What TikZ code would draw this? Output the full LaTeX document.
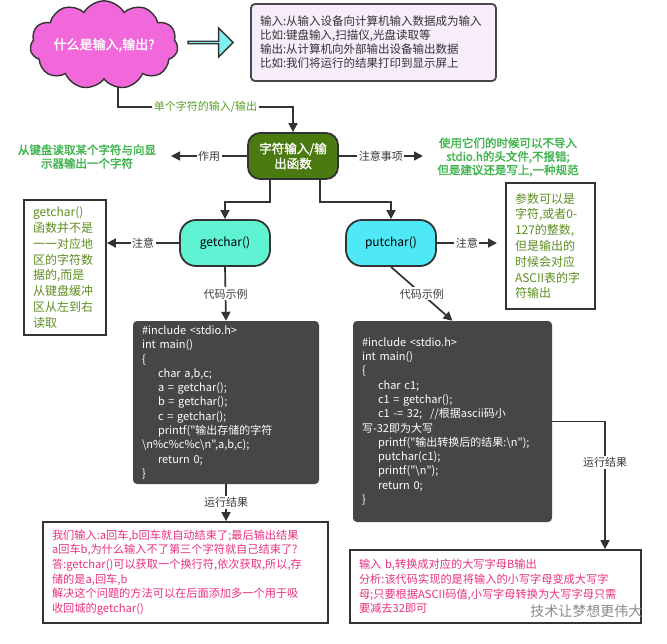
\documentclass[tikz,border=0pt]{standalone}
\usepackage{fontspec}
\setmainfont{Noto Sans CJK SC}
\newfontfamily\boldcjk{Noto Sans CJK SC}[FakeBold=1.6]
\newfontfamily\codefont{Noto Sans CJK SC}
\usetikzlibrary{shapes.symbols,shapes.arrows,arrows.meta,backgrounds}
\definecolor{linec}{HTML}{333333}
\definecolor{labc}{HTML}{3A3A3A}
\definecolor{brightgreen}{HTML}{3CB44B}
\definecolor{olive}{HTML}{5E8E22}
\definecolor{linelabgreen}{HTML}{58A02C}
\definecolor{pinktext}{HTML}{E8327F}
\definecolor{cloudpink}{HTML}{F068DA}
\definecolor{arrowcyan}{HTML}{80F0F0}
\definecolor{lav}{HTML}{F7EDFB}
\definecolor{fngreen}{HTML}{4A7A10}
\definecolor{gcfill}{HTML}{5FF3D4}
\definecolor{pcfill}{HTML}{4EE8F6}
\definecolor{codebg}{HTML}{464646}
\tikzset{
  conn/.style={draw=linec, line width=1.7pt},
  arr/.style={conn, -{Triangle[length=9pt,width=9pt]}},
  lbl/.style={fill=white, text=labc, font=\fontsize{11}{13}\selectfont, inner sep=1.5pt},
  topbox/.style={draw=linec!90, line width=1.8pt, rounded corners=4pt, fill=lav,
     minimum width=245pt, minimum height=77pt, text width=227pt, align=left,
     inner xsep=9pt, font=\fontsize{11.5}{14}\selectfont, text=black!80},
  pill/.style={draw=linec, line width=1.8pt, rounded corners=16pt, minimum width=90pt,
     minimum height=46pt, font=\fontsize{12}{14}\selectfont},
  notebox/.style={draw=linec, line width=1.8pt, align=left, inner xsep=9pt,
     text=olive, font=\fontsize{12}{15.8}\selectfont},
  greennote/.style={text=brightgreen, align=center, font=\boldcjk\fontsize{11.5}{13.5}\selectfont},
  codebox/.style={fill=codebg, rounded corners=4pt, text=white, align=left,
     inner xsep=9pt, font=\codefont\fontsize{11}{14.3}\selectfont},
  resbox/.style={draw=linec, line width=1.8pt, fill=white, align=left, inner xsep=9pt,
     text=pinktext, font=\fontsize{11.2}{14.6}\selectfont},
}
\newcommand{\ind}{\hspace*{16pt}}
\begin{document}
\begin{tikzpicture}[x=1pt,y=-1pt]
\begin{scope}[on background layer]
\fill[white] (0,0) rectangle (667,643);
\end{scope}
\useasboundingbox (0,0) rectangle (667,643);

% top row
\node[cloud, cloud puffs=11, cloud puff arc=120, aspect=2.1, fill=cloudpink, draw=linec,
      line width=1.4pt, minimum width=140pt, minimum height=66pt, inner sep=0pt,
      text=white, font=\boldcjk\fontsize{13}{15}\selectfont] (cloud) at (104,45) {什么是输入,输出?};
\node[single arrow, fill=arrowcyan, draw=linec, line width=1.3pt, minimum width=29pt,
      minimum height=45pt, single arrow head extend=7pt, inner sep=0pt] (arw) at (210,42.5) {};
\node[topbox] (info) at (373.5,42.5) {输入:从输入设备向计算机输入数据成为输入\\
比如:键盘输入,扫描仪,光盘读取等\\
输出:从计算机向外部输出设备输出数据\\
比如:我们将运行的结果打印到显示屏上};

% function node
\node[pill, fill=fngreen, text=white, align=center, rounded corners=12pt,
      font=\boldcjk\fontsize{12.5}{15}\selectfont] (fn) at (293,156) {字符输入/输\\出函数};
\node[greennote] (gl) at (87,156.5) {从键盘读取某个字符与向显\\示器输出一个字符};
\node[greennote] (gr) at (508,157) {使用它们的时候可以不导入\\stdio.h的头文件,不报错;\\但是建议还是写上,一种规范};
\coordinate (glend) at (171,156);
\coordinate (grend) at (423,156);

% getchar / putchar
\node[pill, fill=gcfill] (gc) at (225,243) {getchar()};
\node[pill, fill=pcfill] (pc) at (391,243) {putchar()};
\node[notebox, minimum width=82pt, minimum height=135pt, text width=64pt] (lb) at (65,267.5)
  {getchar()\\函数并不是\\一一对应地\\区的字符数\\据的,而是\\从键盘缓冲\\区从左到右\\读取};
\node[notebox, minimum width=89pt, minimum height=126pt, text width=71pt] (rb) at (550.5,246)
  {参数可以是\\字符,或者0-\\127的整数,\\但是输出的\\时候会对应\\ASCII表的字\\符输出};
\coordinate (rbend) at (497,243);

% code boxes
\node[codebox, minimum width=186pt, minimum height=163pt, text width=168pt] (code1) at (226,402.5)
  {\#include <stdio.h>\\
int main()\\
\{\\
\ind char a,b,c;\\
\ind a = getchar();\\
\ind b = getchar();\\
\ind c = getchar();\\
\ind printf("输出存储的字符\\
\textbackslash n\%c\%c\%c\textbackslash n",a,b,c);\\
\ind return 0;\\
\}};
\node[codebox, minimum width=199pt, minimum height=201pt, text width=181pt] (code2) at (452.5,421.5)
  {\#include <stdio.h>\\
int main()\\
\{\\
\ind char c1;\\
\ind c1 = getchar();\\
\ind c1 -{}= 32;\hspace*{8pt}//根据ascii码小\\
写-32即为大写\\
\ind printf("输出转换后的结果:\textbackslash n");\\
\ind putchar(c1);\\
\ind printf("\textbackslash n");\\
\ind return 0;\\
\}};

% result boxes
\node[resbox, minimum width=285pt, minimum height=101pt, text width=267pt] (res1) at (185.5,572.5)
  {我们输入:a回车,b回车就自动结束了;最后输出结果\\
a回车b,为什么输入不了第三个字符就自己结束了?\\
答:getchar()可以获取一个换行符,依次获取,所以,存\\
储的是a,回车,b\\
解决这个问题的方法可以在后面添加多一个用于吸\\
收回城的getchar()};
\node[resbox, minimum width=291pt, minimum height=73pt, text width=273pt] (res2) at (495.5,586.5)
  {输入 b,转换成对应的大写字母B输出\\
分析:该代码实现的是将输入的小写字母变成大写字\\
母;只要根据ASCII码值,小写字母转换为大写字母只需\\
要减去32即可};
\node[text=black!45, font=\fontsize{14}{16}\selectfont, anchor=east] (wm) at (646,611) {技术让梦想更伟大};

% connectors
\begin{scope}[on background layer]
\draw[arr] ([xshift=14pt]cloud.south) -- ++(0,27) -| node[lbl, pos=0.25] (l0) {\color{linelabgreen}单个字符的输入/输出} (fn.north);
\end{scope}
\draw[arr] (fn.west) -- node[lbl] (l1) {作用} (glend);
\draw[arr] (fn.east) -- node[lbl] (l2) {注意事项} (grend);
\draw[arr] ([xshift=-23pt]fn.south) -- ++(0,22) -| (gc.north);
\draw[arr] ([xshift=27pt]fn.south) -- ++(0,22) -| (pc.north);
\draw[arr] (gc.west) -- node[lbl] (l3) {注意} (lb.east |- gc.west);
\draw[arr] (pc.east) -- node[lbl] (l4) {注意} (rbend);
\draw[arr] (gc.south) -- node[lbl] (l5) {代码示例} (code1.north);
\draw[arr] (pc.south) -- node[lbl] (l6) {代码示例} (code2.north);
\draw[arr] (code1.south) -- node[lbl] (l7) {运行结果} (code1.south |- res1.north);
\draw[arr] (code2.east) -| node[lbl, pos=0.66] (l8) {运行结果} ([xshift=109.5pt]res2.north);
\end{tikzpicture}
\end{document}
